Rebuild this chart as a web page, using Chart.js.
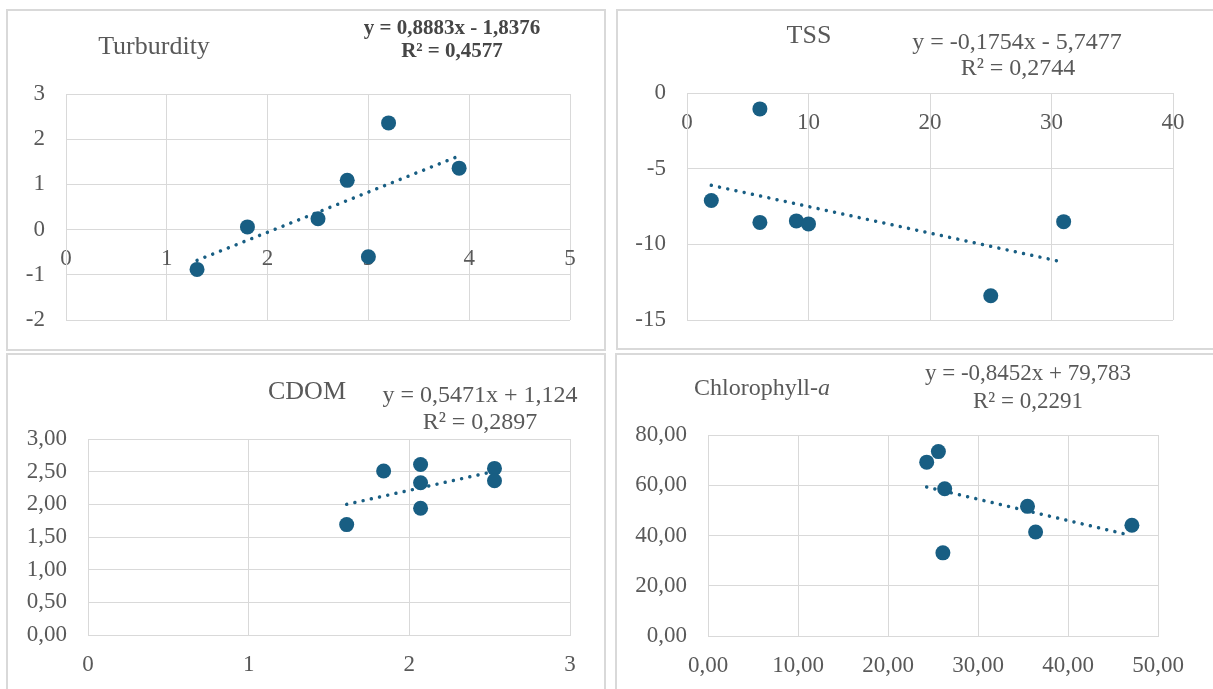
<!DOCTYPE html>
<html>
<head>
<meta charset="utf-8">
<script src="https://cdn.jsdelivr.net/npm/chart.js@4/dist/chart.umd.min.js"></script>
<style>
  html, body { margin: 0; padding: 0; background: #fff; }
  body { width: 1213px; height: 689px; position: relative; overflow: hidden;
         font-family: "Liberation Serif", "Times New Roman", serif; color: #595959; }
  .panel { position: absolute; box-sizing: border-box; border: 2px solid #d9d9d9; }
  canvas { position: absolute; }
  .txt { position: absolute; white-space: nowrap; transform: translate(-50%, -50%); line-height: 1; }
  .eq1 { font-size: 21px; font-weight: bold; color: #464646; }
  .eq { font-size: 24px; }
</style>
</head>
<body>
<div class="panel" style="left:6px;top:9px;width:600px;height:342px"></div>
<div class="panel" style="left:616px;top:9px;width:610px;height:341px"></div>
<div class="panel" style="left:6px;top:353px;width:600px;height:400px"></div>
<div class="panel" style="left:615px;top:353px;width:610px;height:400px"></div>

<canvas id="turbChart" width="594" height="335" style="left:9px;top:12px"></canvas>
<canvas id="tssChart" width="594" height="335" style="left:619px;top:12px"></canvas>
<canvas id="cdomChart" width="594" height="333" style="left:9px;top:356px"></canvas>
<canvas id="chlChart" width="595" height="333" style="left:618px;top:356px"></canvas>

<!-- titles and trendline equations -->
<div class="txt" style="left:154px;top:46px;font-size:26px">Turburdity</div>
<div class="txt eq1" style="left:452px;top:27px">y = 0,8883x - 1,8376</div>
<div class="txt eq1" style="left:452px;top:50px">R² = 0,4577</div>

<div class="txt" style="left:809px;top:35px;font-size:26px">TSS</div>
<div class="txt eq" style="left:1017px;top:41px">y = -0,1754x - 5,7477</div>
<div class="txt eq" style="left:1018px;top:67px">R² = 0,2744</div>

<div class="txt" style="left:307px;top:391px;font-size:26px">CDOM</div>
<div class="txt eq" style="left:480px;top:394px">y = 0,5471x + 1,124</div>
<div class="txt eq" style="left:480px;top:421px">R² = 0,2897</div>

<div class="txt" style="left:762px;top:387px;font-size:24px">Chlorophyll-<i>a</i></div>
<div class="txt eq" style="left:1028px;top:372px;font-size:23px">y = -0,8452x + 79,783</div>
<div class="txt eq" style="left:1028px;top:400px;font-size:23px">R² = 0,2291</div>

<script>
// Turbidity
const turbX = [1.30, 1.80, 2.50, 2.79, 3.00, 3.20, 3.90];
const turbY = [-0.88, 0.06, 0.24, 1.09, -0.60, 2.36, 1.36];
const turbTrendX = [1.30, 3.90];
const turbTrendY = [-0.68, 1.63];
const turbXTicks = [0, 1, 2, 3, 4, 5];
const turbXLabels = ['0', '1', '2', '3', '4', '5'];
const turbYTicks = [-2, -1, 0, 1, 2, 3];
const turbYLabels = ['-2', '-1', '0', '1', '2', '3'];

// TSS
const tssX = [2.0, 6.0, 6.0, 9.0, 10.0, 25.0, 31.0];
const tssY = [-7.1, -1.05, -8.55, -8.45, -8.65, -13.4, -8.5];
const tssTrendX = [2.0, 30.8];
const tssTrendY = [-6.1, -11.15];
const tssXTicks = [0, 10, 20, 30, 40];
const tssXLabels = ['0', '10', '20', '30', '40'];
const tssYTicks = [-15, -10, -5, 0];
const tssYLabels = ['-15', '-10', '-5', '0'];

// CDOM
const cdomX = [1.61, 1.84, 2.07, 2.07, 2.07, 2.53, 2.53];
const cdomY = [1.69, 2.51, 2.61, 2.33, 1.94, 2.55, 2.36];
const cdomTrendX = [1.61, 2.52];
const cdomTrendY = [2.00, 2.50];
const cdomXTicks = [0, 1, 2, 3];
const cdomXLabels = ['0', '1', '2', '3'];
const cdomYTicks = [0, 0.5, 1, 1.5, 2, 2.5, 3];
const cdomYLabels = ['0,00', '0,50', '1,00', '1,50', '2,00', '2,50', '3,00'];

// Chlorophyll-a
const chlX = [24.3, 25.6, 26.3, 26.1, 35.5, 36.4, 47.1];
const chlY = [69.2, 73.4, 58.6, 33.1, 51.6, 41.4, 44.1];
const chlTrendX = [24.3, 46.9];
const chlTrendY = [59.3, 40.1];
const chlXTicks = [0, 10, 20, 30, 40, 50];
const chlXLabels = ['0,00', '10,00', '20,00', '30,00', '40,00', '50,00'];
const chlYTicks = [0, 20, 40, 60, 80];
const chlYLabels = ['0,00', '20,00', '40,00', '60,00', '80,00'];

const markerColor = '#185e83';
const gridColor = '#d9d9d9';
const tickFont = { family: 'Liberation Serif', size: 23 };

const toPoints = (xs, ys) => xs.map((x, i) => ({ x, y: ys[i] }));

// Build one Excel-like scatter panel with a dotted linear trendline.
// inset = distance from canvas edges to the plot area.
function scatterPanel(id, cfg) {
  const inset = cfg.inset;
  const axis = (ticks, labels, extra) => Object.assign({
    type: 'linear',
    min: ticks[0],
    max: ticks[ticks.length - 1],
    afterBuildTicks: s => { s.ticks = ticks.map(v => ({ value: v })); },
    grid: { color: gridColor, lineWidth: 1, drawTicks: false },
    border: { color: gridColor, width: 1 },
    ticks: {
      color: '#595959',
      font: tickFont,
      autoSkip: false,
      maxRotation: 0,
      callback: (v, i) => labels[i]
    }
  }, extra);

  // x axis either crosses at y = 0 (Excel default) or sits at the bottom
  const x = axis(cfg.xTicks, cfg.xLabels, {
    position: cfg.xAtZero ? { y: 0 } : 'bottom',
    afterFit: s => {
      s.height = cfg.xAtZero ? 0 : inset.bottom;
      s.paddingLeft = 0;
      s.paddingRight = 0;
    }
  });
  x.ticks.padding = 16;

  const y = axis(cfg.yTicks, cfg.yLabels, {
    position: 'left',
    afterFit: s => {
      s.width = inset.left;
      s.paddingTop = 0;
      s.paddingBottom = 0;
    }
  });
  y.ticks.padding = 21;

  return new Chart(document.getElementById(id), {
    type: 'scatter',
    data: {
      datasets: [{
        data: toPoints(cfg.trendX, cfg.trendY),
        showLine: true,
        borderColor: markerColor,
        borderWidth: 3.5,
        borderDash: [0.01, 8.4],
        borderCapStyle: 'round',
        pointRadius: 0,
        fill: false
      }, {
        data: toPoints(cfg.xs, cfg.ys),
        backgroundColor: markerColor,
        borderWidth: 0,
        pointRadius: 7.5
      }]
    },
    options: {
      responsive: false,
      animation: false,
      devicePixelRatio: 1,
      layout: {
        padding: {
          left: 0,
          right: inset.right,
          top: inset.top,
          bottom: cfg.xAtZero ? inset.bottom : 0
        }
      },
      plugins: { legend: { display: false }, tooltip: { enabled: false } },
      scales: { x, y }
    }
  });
}

scatterPanel('turbChart', {
  xs: turbX, ys: turbY, trendX: turbTrendX, trendY: turbTrendY,
  xTicks: turbXTicks, xLabels: turbXLabels, yTicks: turbYTicks, yLabels: turbYLabels,
  xAtZero: true,
  inset: { left: 57, right: 33, top: 82, bottom: 27 }
});

scatterPanel('tssChart', {
  xs: tssX, ys: tssY, trendX: tssTrendX, trendY: tssTrendY,
  xTicks: tssXTicks, xLabels: tssXLabels, yTicks: tssYTicks, yLabels: tssYLabels,
  xAtZero: true,
  inset: { left: 68, right: 40, top: 81, bottom: 27 }
});

scatterPanel('cdomChart', {
  xs: cdomX, ys: cdomY, trendX: cdomTrendX, trendY: cdomTrendY,
  xTicks: cdomXTicks, xLabels: cdomXLabels, yTicks: cdomYTicks, yLabels: cdomYLabels,
  xAtZero: false,
  inset: { left: 79, right: 33, top: 83, bottom: 54 }
});

scatterPanel('chlChart', {
  xs: chlX, ys: chlY, trendX: chlTrendX, trendY: chlTrendY,
  xTicks: chlXTicks, xLabels: chlXLabels, yTicks: chlYTicks, yLabels: chlYLabels,
  xAtZero: false,
  inset: { left: 90, right: 55, top: 79, bottom: 53 }
});
</script>
</body>
</html>
